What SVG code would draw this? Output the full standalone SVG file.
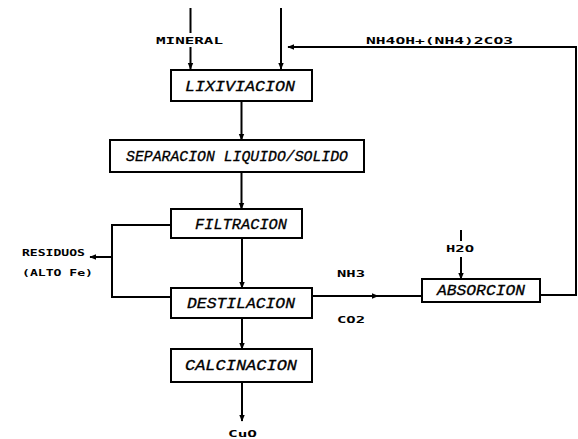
<svg xmlns="http://www.w3.org/2000/svg" width="578" height="439" viewBox="0 0 578 439">
<style>
.box{fill:#fff;stroke:#000;stroke-width:2}
.bl{font-family:"Liberation Mono",monospace;font-style:italic;font-size:14px;fill:#000;text-anchor:middle;stroke:#000;stroke-width:0.3}
.lb{font-family:"DejaVu Sans Mono","Liberation Mono",monospace;font-weight:bold;font-size:9.5px;fill:#000}
.ln{fill:none;stroke:#000;stroke-width:2}
</style>
<defs>
<marker id="ah" viewBox="0 0 10 10" refX="9" refY="5" markerWidth="7" markerHeight="7" orient="auto" markerUnits="userSpaceOnUse">
<path d="M0,1 L10,5 L0,9 z" fill="#000"/>
</marker>
</defs>
<rect width="578" height="439" fill="#fff"/>
<g id="connectors">
<line class="ln" x1="190.5" y1="8" x2="190.5" y2="33"/>
<line class="ln" x1="190.5" y1="47" x2="190.5" y2="69" marker-end="url(#ah)"/>
<line class="ln" x1="281" y1="8" x2="281" y2="69" marker-end="url(#ah)"/>
<line class="ln" x1="577" y1="47" x2="288" y2="47" marker-end="url(#ah)"/>
<polyline class="ln" points="540,295 576,295 576,47"/>
<line class="ln" x1="241.5" y1="101" x2="241.5" y2="140" marker-end="url(#ah)"/>
<line class="ln" x1="241.5" y1="172" x2="241.5" y2="209" marker-end="url(#ah)"/>
<line class="ln" x1="242" y1="238" x2="242" y2="288" marker-end="url(#ah)"/>
<polyline class="ln" points="171,225 112,225 112,297 171,297"/>
<line class="ln" x1="112" y1="257" x2="90" y2="257" marker-end="url(#ah)"/>
<line class="ln" x1="312" y1="296" x2="378" y2="296" marker-end="url(#ah)"/>
<line class="ln" x1="376" y1="296" x2="422" y2="296"/>
<line class="ln" x1="461" y1="230" x2="461" y2="241"/>
<line class="ln" x1="461" y1="257" x2="461" y2="279" marker-end="url(#ah)"/>
<line class="ln" x1="242" y1="318" x2="242" y2="349" marker-end="url(#ah)"/>
<line class="ln" x1="242" y1="382" x2="242" y2="421" marker-end="url(#ah)"/>
</g>
<g id="lixiviacion"><rect class="box" x="171" y="70" width="141" height="31"/><text class="bl" x="240" y="91" textLength="110" lengthAdjust="spacingAndGlyphs">LIXIVIACION</text></g>
<g id="separacion"><rect class="box" x="110" y="140" width="254" height="32"/><text class="bl" x="237" y="161" textLength="222" lengthAdjust="spacingAndGlyphs">SEPARACION LIQUIDO/SOLIDO</text></g>
<g id="filtracion"><rect class="box" x="171" y="209" width="131" height="29"/><text class="bl" x="241" y="229" textLength="92" lengthAdjust="spacingAndGlyphs">FILTRACION</text></g>
<g id="destilacion"><rect class="box" x="171" y="288" width="141" height="30"/><text class="bl" x="241" y="308" textLength="108" lengthAdjust="spacingAndGlyphs">DESTILACION</text></g>
<g id="absorcion"><rect class="box" x="422" y="279" width="118" height="23"/><text class="bl" x="481" y="295" textLength="88" lengthAdjust="spacingAndGlyphs">ABSORCION</text></g>
<g id="calcinacion"><rect class="box" x="171" y="349" width="141" height="33"/><text class="bl" x="241" y="370" textLength="112" lengthAdjust="spacingAndGlyphs">CALCINACION</text></g>
<g id="labels">
<text class="lb" x="156" y="44" textLength="67" lengthAdjust="spacingAndGlyphs">MINERAL</text>
<text class="lb" x="366" y="44" textLength="147" lengthAdjust="spacingAndGlyphs">NH4OH+(NH4)2CO3</text>
<text class="lb" x="22" y="256" textLength="63" lengthAdjust="spacingAndGlyphs">RESIDUOS</text>
<text class="lb" x="22" y="276" textLength="71" lengthAdjust="spacingAndGlyphs">(ALTO Fe)</text>
<text class="lb" x="337" y="277" textLength="28" lengthAdjust="spacingAndGlyphs">NH3</text>
<text class="lb" x="337" y="323" textLength="28" lengthAdjust="spacingAndGlyphs">CO2</text>
<text class="lb" x="446" y="252" textLength="28" lengthAdjust="spacingAndGlyphs">H2O</text>
<text class="lb" x="228" y="436.5" font-size="9" textLength="29" lengthAdjust="spacingAndGlyphs">CuO</text>
</g>
</svg>
